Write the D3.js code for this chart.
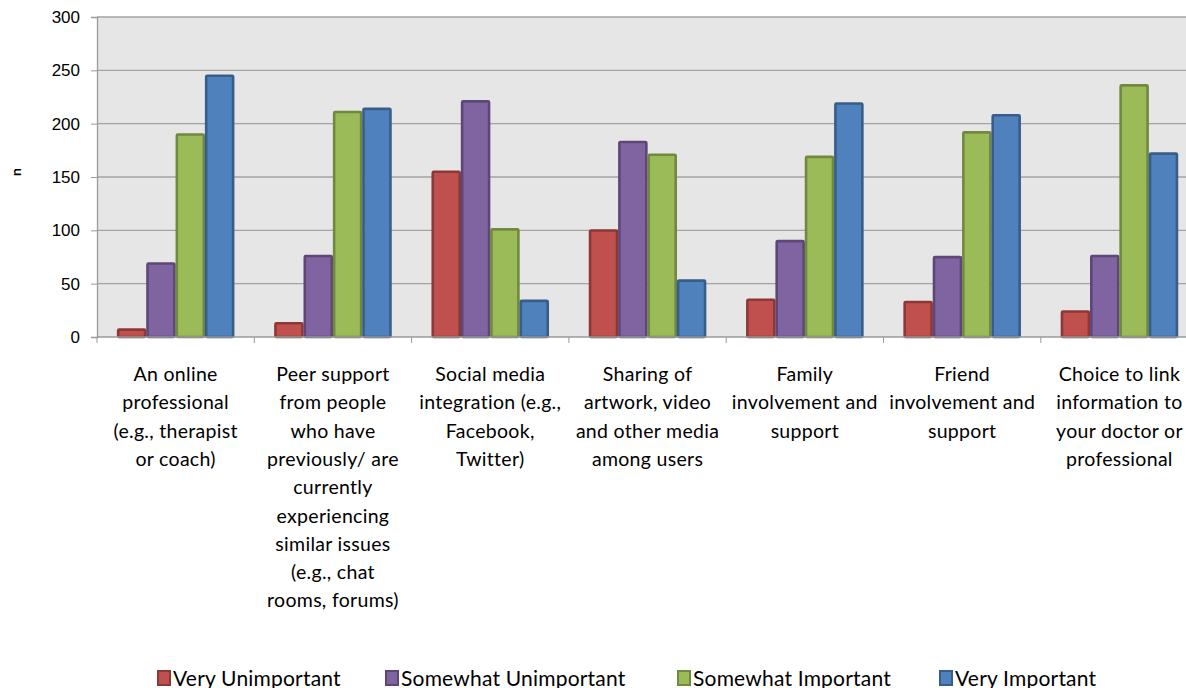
<!DOCTYPE html>
<html lang="en">
<head>
<meta charset="utf-8">
<title>Importance of features</title>
<script src="https://d3js.org/d3.v7.min.js"></script>
<style>
  body { margin: 0; background: #fff; }
  svg { display: block; font-family: Lato, "Open Sans", sans-serif; }
  .axis path, .axis line { stroke: #9a9a9a; }
  .axis text { fill: #000; }
</style>
</head>
<body>
<script>
// ---- data ----
const categories = [
  "An online|professional|(e.g., therapist|or coach)",
  "Peer support|from people|who have|previously/ are|currently|experiencing|similar issues|(e.g., chat|rooms, forums)",
  "Social media|integration (e.g.,|Facebook,|Twitter)",
  "Sharing of|artwork, video|and other media|among users",
  "Family|involvement and|support",
  "Friend|involvement and|support",
  "Choice to link|information to|your doctor or|professional"
];
const seriesNames = ["Very Unimportant", "Somewhat Unimportant", "Somewhat Important", "Very Important"];
const veryUnimportant     = [8, 14, 156, 101, 36, 34, 25];
const somewhatUnimportant = [70, 77, 222, 184, 91, 76, 77];
const somewhatImportant   = [191, 212, 102, 172, 170, 193, 237];
const veryImportant       = [246, 215, 35, 54, 220, 209, 173];
const yTicks = [0, 50, 100, 150, 200, 250, 300];

const fills   = ["#C0504D", "#8064A2", "#9BBB59", "#4F81BD"];
const strokes = ["#8C3836", "#5C4776", "#71893F", "#385D8A"];

const seriesValues = [veryUnimportant, somewhatUnimportant, somewhatImportant, veryImportant];
const table = categories.map((c, i) => ({cat: c, vals: seriesValues.map(s => s[i])}));

// ---- layout ----
const W = 1186, H = 688;
const plotLeft = 97, plotTop = 17, plotH = 320;
const step = 157.3;

const svg = d3.select("body").append("svg")
  .attr("width", W).attr("height", H);

const x0 = d3.scaleBand()
  .domain(categories)
  .range([plotLeft, plotLeft + step * categories.length])
  .paddingInner(0).paddingOuter(0);

const x1 = d3.scaleBand()
  .domain(seriesNames)
  .range([0, x0.bandwidth()])
  .paddingInner(0).paddingOuter(0.68);

const y = d3.scaleLinear().domain([0, 300]).range([plotTop + plotH, plotTop]);

// plot background
svg.append("rect")
  .attr("x", plotLeft).attr("y", plotTop)
  .attr("width", step * categories.length).attr("height", plotH)
  .attr("fill", "#e6e6e6");

// gridlines
svg.append("g").selectAll("line")
  .data(yTicks.filter(d => d > 0))
  .join("line")
  .attr("x1", plotLeft).attr("x2", plotLeft + step * categories.length)
  .attr("y1", d => y(d)).attr("y2", d => y(d))
  .attr("stroke", "#a3a3a3").attr("stroke-width", 1.3);

// bars
const groups = svg.append("g").selectAll("g")
  .data(table)
  .join("g")
  .attr("transform", d => `translate(${x0(d.cat)},0)`);

groups.selectAll("rect")
  .data(d => d.vals.map((v, k) => ({k, v})))
  .join("rect")
  .attr("x", d => x1(seriesNames[d.k]) + 1.2)
  .attr("width", x1.bandwidth() - 2.4)
  .attr("y", d => y(d.v) + 1.2)
  .attr("height", d => Math.max(0, y(0) - y(d.v) - 1.2))
  .attr("fill", d => fills[d.k])
  .attr("stroke", d => strokes[d.k])
  .attr("stroke-width", 2.6)
  .attr("rx", 1);

// y axis
const yAxis = svg.append("g")
  .attr("class", "axis")
  .attr("transform", `translate(${plotLeft},0)`)
  .call(d3.axisLeft(y).tickValues(yTicks).tickSize(6).tickPadding(11));
yAxis.selectAll("text").attr("font-size", 17);
yAxis.select(".domain").attr("stroke-width", 1.3);

// x axis with ticks at category boundaries
const xAxisG = svg.append("g").attr("class", "axis");
xAxisG.append("line")
  .attr("x1", plotLeft).attr("x2", plotLeft + step * categories.length)
  .attr("y1", y(0)).attr("y2", y(0))
  .attr("stroke-width", 1.3);
xAxisG.selectAll(".tk")
  .data(categories)
  .join("line")
  .attr("class", "tk")
  .attr("x1", d => x0(d)).attr("x2", d => x0(d))
  .attr("y1", y(0)).attr("y2", y(0) + 6);

// category labels
const labels = svg.append("g").selectAll("text")
  .data(categories)
  .join("text")
  .attr("text-anchor", "middle")
  .attr("font-size", 19.5)
  .attr("letter-spacing", 0.3)
  .attr("fill", "#000");
labels.each(function(d) {
  const cx = x0(d) + x0.bandwidth() / 2;
  d3.select(this).selectAll("tspan")
    .data(d.split("|"))
    .join("tspan")
    .attr("x", cx)
    .attr("y", (t, i) => 381 + i * 28.3)
    .text(t => t);
});

// y axis title
svg.append("text")
  .attr("transform", "translate(21,172) rotate(-90)")
  .attr("text-anchor", "middle")
  .attr("font-size", 14)
  .attr("font-weight", "bold")
  .text("n");

// legend
const legendX = [157, 385, 677, 939];
const legend = svg.append("g").selectAll("g")
  .data(seriesNames)
  .join("g")
  .attr("transform", (d, i) => `translate(${legendX[i]},670)`);
legend.append("rect")
  .attr("x", 1).attr("y", 1)
  .attr("width", 12).attr("height", 14)
  .attr("fill", (d, i) => fills[i])
  .attr("stroke", (d, i) => strokes[i])
  .attr("stroke-width", 2);
legend.append("text")
  .attr("x", 16).attr("y", 15.5)
  .attr("font-size", 21)
  .attr("letter-spacing", 0.2)
  .text(d => d);
</script>
</body>
</html>
